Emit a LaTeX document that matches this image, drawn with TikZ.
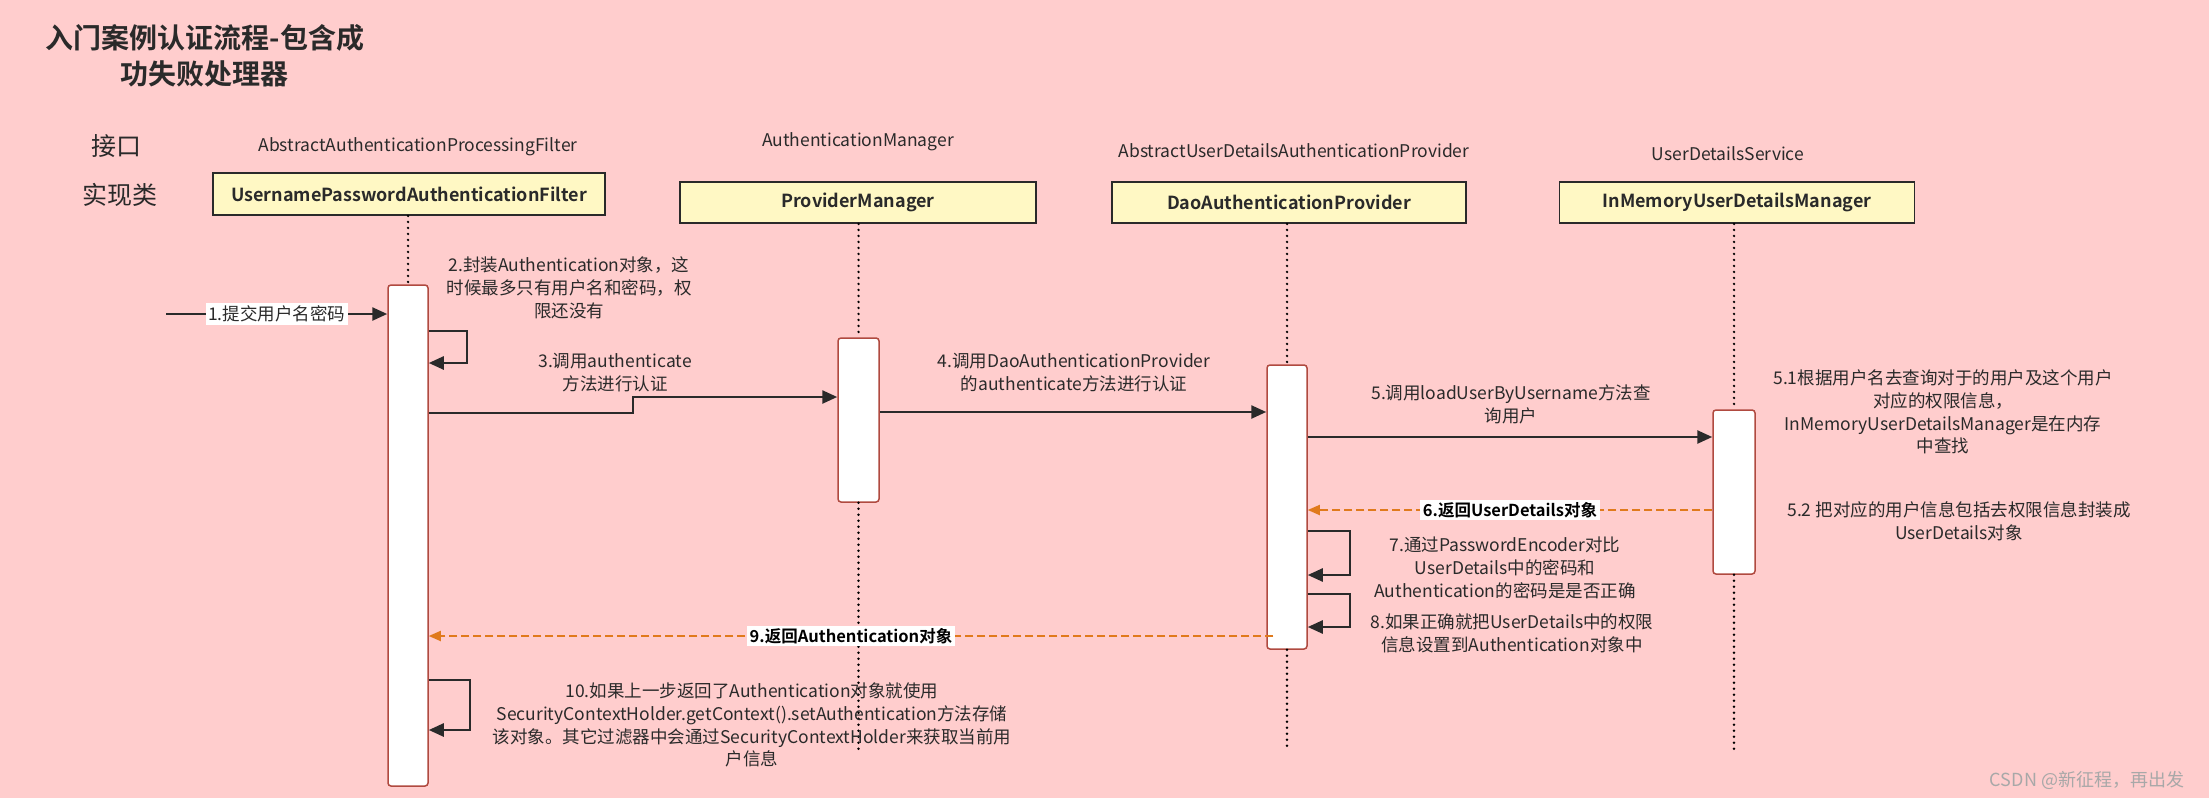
\documentclass[tikz,border=0pt]{standalone}
\usepackage{fontspec}
\setmainfont{Noto Sans CJK SC}[BoldFont={Noto Sans CJK SC Bold}]
\usetikzlibrary{arrows.meta,calc}
\definecolor{bgpink}{HTML}{FFCDCD}
\definecolor{boxyellow}{HTML}{FFF8C4}
\definecolor{txt}{HTML}{2A2A2A}
\definecolor{actred}{HTML}{B04A40}
\definecolor{retorange}{HTML}{E07A1C}
\definecolor{wmgray}{HTML}{A8A8A8}
\begin{document}
\begin{tikzpicture}[x=1pt,y=-1pt,
  classbox/.style={draw=txt,line width=1.8pt,fill=boxyellow,minimum height=42pt,inner sep=0pt,font=\fontsize{18}{22}\selectfont\bfseries,text=txt},
  iface/.style={font=\fontsize{17.5}{22}\selectfont,text=txt,inner sep=0pt},
  side/.style={font=\fontsize{25}{30}\selectfont,text=txt,inner sep=0pt},
  act/.style={draw=actred,line width=1.5pt,fill=white,rounded corners=3pt,minimum width=40pt,inner sep=0pt},
  life/.style={line width=2.7pt,line cap=round,dash pattern=on 0pt off 6pt,black},
  msg/.style={draw=txt,line width=2.5pt,-{Triangle[length=15pt,width=13pt]}},
  ret/.style={draw=retorange,line width=1.8pt,dash pattern=on 8pt off 4pt,-{Triangle[length=12pt,width=10pt]}},
  note/.style={font=\fontsize{17.5}{22.8}\selectfont,text=txt,align=center,inner sep=0pt},
  tag/.style={fill=white,inner sep=2.5pt,text=txt,font=\fontsize{17.5}{22}\selectfont},
  btag/.style={fill=white,inner sep=2.5pt,text=black,font=\fontsize{16.5}{20}\selectfont\bfseries},
]
\fill[bgpink] (0,0) rectangle (2209,798);
\useasboundingbox (0,0) rectangle (2209,798);

% title
\node[font=\fontsize{28}{36}\selectfont\bfseries,align=center,text=txt] (title) at (205,56) {入门案例认证流程-包含成\\功失败处理器};
\node[side] (jk) at (116,146) {接口};
\node[side] (sxl) at (120,195) {实现类};

% interface labels
\node[iface] (i1) at (418,147) {AbstractAuthenticationProcessingFilter};
\node[iface] (i2) at (858,142) {AuthenticationManager};
\node[iface] (i3) at (1294,151) {AbstractUserDetailsAuthenticationProvider};
\node[iface] (i4) at (1728,154) {UserDetailsService};

% class boxes
\node[classbox,minimum width=392pt] (B1) at (409,194) {UsernamePasswordAuthenticationFilter};
\node[classbox,minimum width=356pt,minimum height=41pt] (B2) at (858,202.5) {ProviderManager};
\node[classbox,minimum width=354pt,minimum height=41pt] (B3) at (1289,202.5) {DaoAuthenticationProvider};
\node[classbox,minimum width=355pt,minimum height=41pt] (B4) at (1737,202.5) {InMemoryUserDetailsManager};

% activation boxes
\node[act,minimum height=501pt] (A1) at (408,535.5) {};
\node[act,minimum height=164pt,minimum width=41pt] (A2) at (858.5,420) {};
\node[act,minimum height=284pt] (A3) at (1287,507) {};
\node[act,minimum height=164pt,minimum width=42pt] (A4) at (1734,492) {};

\coordinate (yend) at (0,750);

% lifelines
\draw[life] (B1.south -| A1.north) -- (A1.north);
\draw[life] (B2.south -| A2.north) -- (A2.north);
\draw[life] (A2.south) -- (A2.south |- yend);
\draw[life] (B3.south -| A3.north) -- (A3.north);
\draw[life] (A3.south) -- (A3.south |- yend);
\draw[life] (B4.south -| A4.north) -- (A4.north);
\draw[life] (A4.south) -- (A4.south |- yend);

% notes
\node[note] (n2) at (569,288) {2.封装Authentication对象，这\\时候最多只有用户名和密码，权\\限还没有};
\node[note] (n3) at (615,372.5) {3.调用authenticate\\方法进行认证};
\node[note] (n4) at (1074,372.5) {4.调用DaoAuthenticationProvider\\的authenticate方法进行认证};
\node[note] (n5) at (1511,404) {5.调用loadUserByUsername方法查\\询用户};
\node[note] (n51) at (1943,412) {5.1根据用户名去查询对于的用户及这个用户\\对应的权限信息，\\InMemoryUserDetailsManager是在内存\\中查找};
\node[note] (n52) at (1959,521.5) {5.2 把对应的用户信息包括去权限信息封装成\\UserDetails对象};
\node[note] (n7) at (1505,568) {7.通过PasswordEncoder对比\\UserDetails中的密码和\\Authentication的密码是是否正确};
\node[note] (n8) at (1512,633.5) {8.如果正确就把UserDetails中的权限\\信息设置到Authentication对象中};
\node[note] (n10) at (752,725) {10.如果上一步返回了Authentication对象就使用\\SecurityContextHolder.getContext().setAuthentication方法存储\\该对象。其它过滤器中会通过SecurityContextHolder来获取当前用\\户信息};

% message 1
\coordinate (s1) at (166,314);
\draw[msg] (s1) -- (A1.west |- s1) node[midway,tag] (m1) {1.提交用户名密码};

% self loop 2
\coordinate (y2a) at (0,331);
\coordinate (y2b) at (0,363);
\draw[msg] (A1.east |- y2a) -- ++(38,0) |- (A1.east |- y2b);

% message 3
\coordinate (y3a) at (0,413);
\coordinate (y3b) at (0,397);
\draw[msg] (A1.east |- y3a) -- ++(204,0) |- (A2.west |- y3b);

% message 4
\coordinate (y4) at (0,412);
\draw[msg] (A2.east |- y4) -- (A3.west |- y4);

% message 5
\coordinate (y5) at (0,437);
\draw[msg] (A3.east |- y5) -- (A4.west |- y5);

% return 6
\coordinate (y6) at (0,510);
\draw[ret] (A4.west |- y6) -- (A3.east |- y6) node[midway,btag] (m6) {6.返回UserDetails对象};

% self loop 7
\coordinate (y7a) at (0,531);
\coordinate (y7b) at (0,575);
\draw[msg] (A3.east |- y7a) -- ++(42,0) |- (A3.east |- y7b);

% self loop 8
\coordinate (y8a) at (0,594);
\coordinate (y8b) at (0,627);
\draw[msg] (A3.east |- y8a) -- ++(42,0) |- (A3.east |- y8b);

% return 9
\coordinate (y9) at (0,636);
\draw[ret] ($(A3.west |- y9)+(7,0)$) -- (A1.east |- y9) node[midway,btag] (m9) {9.返回Authentication对象};

% self loop 10
\coordinate (y10a) at (0,680);
\coordinate (y10b) at (0,730);
\draw[msg] (A1.east |- y10a) -- ++(41,0) |- (A1.east |- y10b);

% watermark
\node[font=\fontsize{18}{22}\selectfont,text=wmgray,inner sep=0pt] (wm) at (2087,780) {CSDN @新征程，再出发};
\end{tikzpicture}
\end{document}
